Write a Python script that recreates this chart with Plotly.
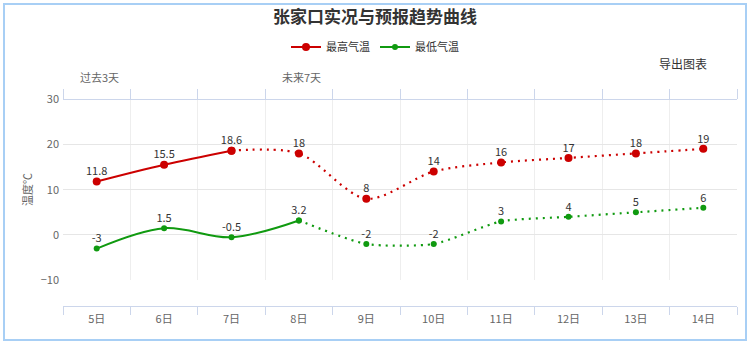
import plotly.graph_objects as go

days = ["5日", "6日", "7日", "8日", "9日", "10日", "11日", "12日", "13日", "14日"]
high = [11.8, 15.5, 18.6, 18, 8, 14, 16, 17, 18, 19]
low = [-3, 1.5, -0.5, 3.2, -2, -2, 3, 4, 5, 6]
high_solid_end = 3   # past days drawn solid (5,6,7)
low_solid_end = 4    # solid through 8日
y_ticks = [-10, 0, 10, 20, 30]

RED = "#cc0000"
GREEN = "#109a10"
FONT = "Noto Sans CJK SC"

W, H = 750, 344
L, R, T, B = 63, 13, 99, 38
PW, PH = W - L - R, H - T - B


def px_x(p):
    return (p - L) / PW


def px_y(p):
    return (H - B - p) / PH


dom_low = px_y(280.3)
DOT = "2px,5px"

fig = go.Figure()

# red series
fig.add_trace(go.Scatter(x=days[:high_solid_end], y=high[:high_solid_end], name="最高气温",
                         mode="lines+markers", line=dict(color=RED, width=2, shape="spline"),
                         marker=dict(color=RED, size=8), legendrank=1))
fig.add_trace(go.Scatter(x=days[high_solid_end - 1:], y=high[high_solid_end - 1:], showlegend=False,
                         mode="lines+markers",
                         line=dict(color=RED, width=2.2, shape="spline", smoothing=0.85, dash=DOT),
                         marker=dict(color=RED, size=8)))
# green series
fig.add_trace(go.Scatter(x=days[:low_solid_end], y=low[:low_solid_end], name="最低气温",
                         mode="lines+markers", line=dict(color=GREEN, width=2, shape="spline"),
                         marker=dict(color=GREEN, size=6), legendrank=2))
fig.add_trace(go.Scatter(x=days[low_solid_end - 1:], y=low[low_solid_end - 1:], showlegend=False,
                         mode="lines+markers",
                         line=dict(color=GREEN, width=2.2, shape="spline", smoothing=0.6, dash=DOT),
                         marker=dict(color=GREEN, size=6)))
# data labels (on top axis so it gets categories)
for vals in (high, low):
    fig.add_trace(go.Scatter(x=days, y=vals, mode="markers+text", text=[str(v) for v in vals],
                             textposition="top center", showlegend=False, xaxis="x2",
                             marker=dict(size=4, opacity=0),
                             textfont=dict(family=FONT, size=11, color="#333333"), hoverinfo="skip"))

fig.update_layout(
    width=W, height=H,
    margin=dict(l=L, r=R, t=T, b=B),
    paper_bgcolor="white", plot_bgcolor="white",
    font=dict(family=FONT, color="#333333"),
    title=dict(text="<b>张家口实况与预报趋势曲线</b>", x=0.5, xref="container", xanchor="center",
               y=1 - 17 / H, yref="container", yanchor="middle",
               font=dict(family=FONT, size=17, color="#333333")),
    legend=dict(orientation="h", xref="container", yref="container", x=0.5, xanchor="center",
                y=1 - 47 / H, yanchor="middle", font=dict(family=FONT, size=11, color="#333333"),
                itemwidth=30, tracegroupgap=0),
    xaxis=dict(type="category", categoryorder="array", categoryarray=days, range=[-0.5, 9.5],
               anchor="free", position=0, showline=True, linecolor="#ccd6eb", linewidth=1,
               ticks="outside", tickson="boundaries", ticklen=8, tickcolor="#ccd6eb",
               showgrid=True, gridcolor="#eeeeee", gridwidth=1, ticklabelstandoff=3,
               tickfont=dict(family=FONT, size=11, color="#666666")),
    xaxis2=dict(type="category", categoryorder="array", categoryarray=days, range=[-0.5, 9.5],
                overlaying="x", anchor="free", position=1, side="top", showline=True,
                linecolor="#ccd6eb", ticks="outside", tickson="boundaries", ticklen=10,
                tickcolor="#ccd6eb", showticklabels=False, showgrid=False),
    yaxis=dict(domain=[dom_low, 1], range=[-10, 30], tickvals=y_ticks, showgrid=True,
               gridcolor="#e6e6e6", zeroline=False, showline=False, ticks="", ticklabelstandoff=3,
               tickfont=dict(family=FONT, size=11, color="#666666")),
    showlegend=True,
)

fig.add_annotation(text="过去3天", xref="x", x=0, yref="paper", y=px_y(77), yanchor="middle",
                   xanchor="center", showarrow=False, font=dict(family=FONT, size=11, color="#666666"), xshift=3)
fig.add_annotation(text="未来7天", xref="x", x=3, yref="paper", y=px_y(77), yanchor="middle",
                   xanchor="center", showarrow=False, font=dict(family=FONT, size=11, color="#666666"), xshift=3)
fig.add_annotation(text="导出图表", xref="paper", x=px_x(683), yref="paper", y=px_y(64), yanchor="middle",
                   xanchor="center", showarrow=False, font=dict(family=FONT, size=12, color="#333333"))
fig.add_annotation(text="温度℃", xref="paper", x=px_x(27), yref="paper", y=px_y(190), yanchor="middle",
                   xanchor="center", textangle=-90, showarrow=False,
                   font=dict(family=FONT, size=11, color="#666666"))

fig.add_shape(type="rect", xref="paper", yref="paper", x0=px_x(4), x1=px_x(746), y0=px_y(340), y1=px_y(4),
              line=dict(color="#a8cff5", width=2), layer="below")

fig.write_html("out.html")
